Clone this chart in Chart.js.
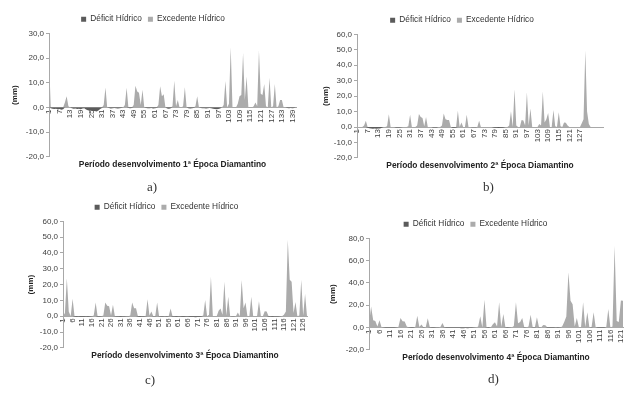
<!DOCTYPE html>
<html><head><meta charset="utf-8">
<script src="https://cdn.jsdelivr.net/npm/chart.js@4/dist/chart.umd.min.js"></script>
<style>
html,body{margin:0;padding:0;background:#fff;}
body{width:642px;height:394px;position:relative;overflow:hidden;}
canvas{position:absolute;}
.cap{position:absolute;font-family:'Liberation Serif',serif;font-size:13px;color:#333;will-change:transform;-webkit-font-smoothing:antialiased;}
</style></head><body>
<canvas id="cA" width="321" height="169" style="left:0;top:3px"></canvas>
<canvas id="cB" width="321" height="169" style="left:321px;top:4px"></canvas>
<canvas id="cC" width="321" height="172" style="left:0;top:191px"></canvas>
<canvas id="cD" width="321" height="157" style="left:321px;top:208px"></canvas>
<div class="cap" style="left:147px;top:179px">a)</div>
<div class="cap" style="left:483px;top:179px">b)</div>
<div class="cap" style="left:145px;top:372px">c)</div>
<div class="cap" style="left:488px;top:371px">d)</div>
<script>
const seriesNames = ['Déficit Hídrico', 'Excedente Hídrico'];

// ---- Panel a: 1ª Época ----
const excA = [20,0,0,0,0,0,0,0,0,2, 4.5,0.5,0,0,0,0,0,0,0,0, 0,0,0,0,0,0,0,0,0,0,
  0,1,8.1,0,0,0,0,0,0,0, 0,0,0,1,8,0,0,0,1,8.8, 6.5,6,1,7.2,0,0,0,0,0,0,
  0,0,1,8.6,4.5,5.3,0,0,0,0, 0.5,10.8,0.5,3,0,0,0.5,8.2,0,0, 0,0,0,0.5,4.5,0,0,0,0,0,
  0,0,0,0,0,0,0,0,0,1, 10.7,0,1.5,24.4,0,0,0,1.5,4.5,5, 22,3,12.5,0,0,0,0.5,2,0.5,23,
  5.5,5,9.5,0.5,0,12,0,0.5,9.5,0, 0.5,3,3,0,0,0,0,0,0,0, 0];
const defA = [0,-0.3,-0.5,-0.6,-0.5,-0.8,-0.6,-0.9,-0.7,0, 0,0,0,-0.3,-0.5,-0.4,-0.6,-0.5,-0.7,-0.4,
  -0.3,-0.8,-1.1,-1.3,-1.2,-1.5,-1.4,-1.6,-1.2,-0.6, -0.2,0,0,0,-0.2,-0.4,-0.3,-0.2,-0.3,-0.4,
  -0.3,-0.2,0,0,0,-0.2,-0.3,-0.2,0,0, 0,0,0,0,0,-0.2,-0.3,-0.3,-0.2,-0.4,
  -0.3,-0.2,0,0,0,0,0,-0.4,-0.5,-0.3, 0,0,0,0,0,0,0,0,0,-0.3,
  -0.4,-0.3,-0.2,0,0,0,-0.2,-0.3,-0.3,-0.4, -0.3,-0.2,-0.3,-0.5,-0.6,-0.7,-0.6,-0.4,0,0,
  0,0,0,0,0,0,0,0,0,0, 0,0,0,0,0,0,0,0,0,0, 0,0,0,0,0,0,0,0,0,0,
  0,0,0,0,0,-0.2,-0.3,-0.2,-0.3,-0.2, 0];
const ticksA = ['1','7','13','19','25','31','37','43','49','55','61','67','73','79','85','91','97','103','109','115','121','127','133','139'];

// ---- Panel b: 2ª Época ----
const excB = [0,0,0,0,1,4,0,0,0,0, 0,0,0,0,0,0,0,0.5,8.3,0, 0,0,0,0,0,0,0,0,0,0.5,
  8,0,0,0,1,8.4,6.5,5.8,0.5,6.5, 0,0,0,0,0,0,0,0,1,8.7, 5,4.5,4.5,0,0,0,0,10.6,0,3,
  0,0,8,0,0,0,0,0,0,4, 0,0,0,0,0,0,0,0,0,0, 0,0,0,0,0,0,1,10.2,0,24.5,
  1,0,0,4.5,4.2,1,22.5,1,12,0, 0,0,0,2,1,23,3,5,9,0, 0,11,0.5,0,9.5,0.5,0,3,2.8,1,
  0,0,0,0,0,0,0,2.5,5,49.5, 10,2,0,0,0,0,0,0,0,0];
const defB = [0,0,0,0,0,0,-0.5,-0.8,-1,-1.1, -1,-1.2,-1,-0.9,-0.5,0,0,0,0,0,
  0,0,-0.3,-0.3,-0.3,-0.2,0,0,0,0, 0,0,0,0,0,0,0,0,0,0, 0,0,0,-0.3,-0.3,-0.3,0,0,0,0,
  0,0,0,0,-0.4,-0.4,-0.3,0,0,0, 0,0,0,0,0,-0.2,-0.2,-0.2,0,0, 0,0,0,0,0,0,0,-0.3,-0.4,-0.5,
  -0.6,-0.5,-0.4,-0.3,0,0,0,0,0,0, 0,0,0,0,0,0,0,0,0,0, 0,0,0,0,0,0,0,0,0,0,
  0,0,0,0,0,0,0,0,0,0, 0,0,0,0,0,0,0,0,0,0, 0,0,0,0,0,0,0,0,0,0];
const ticksB = ['1','7','13','19','25','31','37','43','49','55','61','67','73','79','85','91','97','103','109','115','121','127'];

// ---- Panel c: 3ª Época ----
const excC = [0,2,24,3,0,11,0,0,0,0, 0,0,0,0,0,0,0.5,8.7,0,0, 0,0.5,8.7,6.6,6.3,0.5,7.2,0,0,0,
  0,0,0,0,0,0.5,8.7,5,5,0, 0,0,0,0,10.8,0.5,3,0,0,8.7, 0,0,0,0,0,0,4.9,0,0,0,
  0,0,0,0,0,0,0,0,0,0, 0,0,0,0.5,10.2,0,1,25,0,0, 0,3.5,4.9,1,21.8,0.5,12.3,0,0,0,
  0,2.3,0,22.9,5,8.7,0,0,12.3,0, 0,0,9.5,0,0,3.2,3,0,0,0, 0,0,0,0,0,1,3,48.4,23,21.8,
  2,9,0,0.5,23,0.5,14,0];
const defC = [0,0,0,0,0,0,-0.3,-0.4,-0.3,-0.4, -0.5,-0.4,-0.3,-0.4,-0.3,-0.2,0,0,-0.3,-0.3,
  -0.2,0,0,0,0,0,0,-0.2,-0.3,-0.3, -0.4,-0.3,-0.3,-0.2,-0.2,0,0,0,0,-0.3,
  -0.4,-0.3,-0.3,-0.2,0,0,0,-0.2,-0.2,0, -0.2,-0.3,-0.3,-0.2,-0.3,-0.2,0,-0.3,-0.3,-0.4,
  -0.3,-0.3,-0.4,-0.4,-0.3,-0.3,-0.4,-0.5,-0.5,-0.6, -0.5,-0.4,-0.3,0,0,0,0,0,0,0,
  0,0,0,0,0,0,0,0,-0.2,-0.2, 0,0,0,0,0,0,0,0,0,0, 0,0,0,0,0,0,0,-0.3,-0.3,-0.4,
  -0.3,-0.3,-0.3,-0.2,0,0,0,0,0,0, 0,0,0,0,0,0,0,0];
const ticksC = ['1','6','11','16','21','26','31','36','41','46','51','56','61','66','71','76','81','86','91','96','101','106','111','116','121','126'];

// ---- Panel d: 4ª Época ----
const excD = [3,18.8,6.5,6,1,6.5,0,0,0,0, 0,0,0,0,0.5,8.7,5.6,5.4,1,0, 0,0,0,10.7,0.5,2.7,0,0,8.3,0,
  0,0,0,0,0.5,4.2,0,0,0,0, 0,0,0,0,0,0,0,0,0,0, 0,0,1,10.1,0,25,0,0,0,3,
  4.7,1,22.7,0.5,12.2,0,0,0,0,1.5, 22.7,4,5,8.5,0,0,1,11.6,0,0, 9.2,0,0,2.4,2,0,0,0,0,0,
  0,0,1,5,10,49.5,24,21,1,8.5, 0,0,22.7,0.5,13.7,0,0,13.7,0,0, 0,0,0,0,16.7,0,1,73.4,6,5,
  24.2,24];
const defD = [0,0,0,0,0,0,0,-0.2,-0.3,-0.3, -0.4,-0.3,-0.3,-0.2,0,0,0,0,0,-0.2,
  -0.3,-0.3,0,0,0,0,-0.2,0,0,-0.2, -0.3,-0.3,-0.2,-0.2,0,0,-0.2,-0.3,-0.3,-0.3,
  -0.4,-0.3,-0.3,-0.4,-0.5,-0.5,-0.4,-0.5,-0.4,-0.3, -0.2,0,0,0,0,0,-0.2,-0.3,0,0,
  0,0,0,0,0,-0.2,-0.3,-0.2,0,0, 0,0,0,0,-0.2,0,0,0,-0.2,-0.2, 0,-0.2,0,0,0,-0.3,-0.3,-0.3,-0.3,-0.2,
  -0.3,-0.2,0,0,0,0,0,0,0,0, 0,0,0,0,0,0,-0.2,0,0,-0.3, -0.3,-0.4,-0.3,0,0,0,0,0,0,0, 0,0];
const ticksD = ['1','6','11','16','21','26','31','36','41','46','51','56','61','66','71','76','81','86','91','96','101','106','111','116','121'];

const titles = ['Período desenvolvimento 1ª Época Diamantino','Período desenvolvimento 2ª Época Diamantino',
  'Período desenvolvimento 3ª Época Diamantino','Período desenvolvimento 4ª Época Diamantino'];

Chart.defaults.font.family = "'Liberation Sans', Arial, sans-serif";
Chart.defaults.color = '#404040';

function fmt(v){ return v.toFixed(1).replace('.', ','); }

function makePanel(id, exc, def, ticks, title, yMin, yMax, pad, yWidth){
  const cats = exc.map((_, i) => String(i + 1));
  return new Chart(document.getElementById(id), {
    type: 'line',
    data: {
      labels: cats,
      datasets: [
        {label: seriesNames[0], data: def, backgroundColor: '#5b5b5b', borderColor: 'rgba(0,0,0,0)', borderWidth: 0, fill: 'origin', pointRadius: 0, tension: 0},
        {label: seriesNames[1], data: exc, backgroundColor: '#ababab', borderColor: 'rgba(0,0,0,0)', borderWidth: 0, fill: 'origin', pointRadius: 0, tension: 0}
      ]
    },
    options: {
      responsive: false, animation: false, events: [],
      layout: {padding: {left: pad[0], right: pad[1], top: 6, bottom: 0}},
      plugins: {
        legend: {position: 'top', labels: {boxWidth: 5, boxHeight: 5, padding: 6, color: '#333', font: {size: 8.3}}},
        title: {display: true, position: 'bottom', fullSize: false, text: title, color: '#222', font: {size: 8.4, weight: 'bold'}, padding: {top: 3, bottom: 2}},
        tooltip: {enabled: false}
      },
      scales: {
        x: {
          position: {y: 0},
          grid: {drawOnChartArea: false, drawTicks: false},
          border: {color: '#a8a8a8', width: 1},
          ticks: {autoSkip: false, minRotation: 90, maxRotation: 90, padding: 2, font: {size: 8},
            callback: function(value){ const lab = this.getLabelForValue(value); return ticks.includes(lab) ? lab : ''; }},
          afterFit: s => { s.height = 0; }
        },
        y: {
          min: yMin, max: yMax,
          grid: {drawOnChartArea: false, tickLength: 3, color: '#a8a8a8'},
          border: {color: '#a8a8a8', width: 1},
          ticks: {stepSize: 10, padding: 2, font: {size: 8}, callback: v => fmt(v)},
          title: {display: true, text: '(mm)', color: '#222', font: {size: 8, weight: 'bold'}, padding: 0},
          afterFit: s => { s.width = yWidth; }
        }
      }
    }
  });
}

makePanel('cA', excA, defA, ticksA, titles[0], -20, 30, [10, 25], 39);
makePanel('cB', excB, defB, ticksB, titles[1], -20, 60, [0, 39], 36);
makePanel('cC', excC, defC, ticksC, titles[2], -20, 60, [26, 14], 37);
makePanel('cD', excD, defD, ticksD, titles[3], -20, 80, [7, 19], 41);
</script>
</body></html>
